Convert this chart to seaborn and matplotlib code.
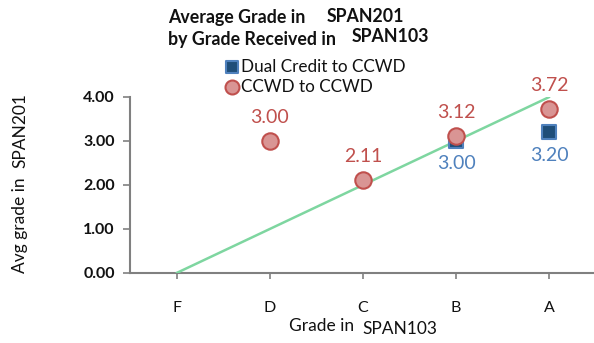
import matplotlib
matplotlib.use("Agg")
import matplotlib.pyplot as plt
import seaborn as sns
import pandas as pd

# Grades received in SPAN103 and their grade points
grades = ["F", "D", "C", "B", "A"]
grade_points = [0, 1, 2, 3, 4]

# Average SPAN201 grade for each group
dual_grades = ["B", "A"]
dual_values = [3.00, 3.20]
ccwd_grades = ["D", "C", "B", "A"]
ccwd_values = [3.00, 2.11, 3.12, 3.72]

dual_label = "Dual Credit to CCWD"
ccwd_label = "CCWD to CCWD"

sns.set_theme(style="white")
plt.rcParams["font.family"] = ["Lato", "DejaVu Sans"]

pos = {g: i for i, g in enumerate(grades)}
dual_df = pd.DataFrame({"x": [pos[g] for g in dual_grades], "y": dual_values})
ccwd_df = pd.DataFrame({"x": [pos[g] for g in ccwd_grades], "y": ccwd_values})
ref_df = pd.DataFrame({"x": [pos[g] for g in grades], "y": grade_points})

fig = plt.figure(figsize=(5.94, 3.43), dpi=100)
ax = fig.add_axes([130 / 594, 70 / 343, 1 - 130 / 594, 176 / 343])

# Reference line: grade points of the SPAN103 grade
sns.lineplot(data=ref_df, x="x", y="y", ax=ax, color="#7ED6A0", linewidth=1.8,
             zorder=3, legend=False)

blue_face, blue_edge, blue_text = "#1F4E79", "#4F81BD", "#4F81BD"
red_face, red_edge, red_text = "#D99594", "#C0504D", "#C0504D"

sns.scatterplot(data=dual_df, x="x", y="y", ax=ax, marker="s", s=110,
                color=blue_face, edgecolor=blue_edge, linewidth=1.5,
                zorder=4, label=dual_label, clip_on=False)
sns.scatterplot(data=ccwd_df, x="x", y="y", ax=ax, marker="o", s=140,
                color=red_face, edgecolor=red_edge, linewidth=1.5,
                zorder=5, label=ccwd_label, clip_on=False)

for x, y in zip(dual_df["x"], dual_df["y"]):
    ax.annotate(f"{y:.2f}", (x, y), xytext=(0, -16.5), textcoords="offset points",
                ha="center", va="center", fontsize=14, color=blue_text)
for x, y in zip(ccwd_df["x"], ccwd_df["y"]):
    ax.annotate(f"{y:.2f}", (x, y), xytext=(0, 17), textcoords="offset points",
                ha="center", va="center", fontsize=14, color=red_text)

ax.set_xlim(-0.5, 4.48)
ax.set_ylim(0, 4.0)
ax.set_xticks(range(len(grades)))
ax.set_xticklabels(grades, fontsize=11.5, color="#111111")
ax.set_yticks(grade_points)
ax.set_yticklabels([f"{v:.2f}" for v in grade_points], fontsize=11.5,
                   fontweight="bold", color="#111111")
ax.tick_params(axis="x", length=4, width=1.2, color="#808080", pad=16, bottom=True)
ax.tick_params(axis="y", length=5, width=1.2, color="#808080", pad=6, left=True)
ax.set_xlabel("")
ax.set_ylabel("")

for side in ["top", "right"]:
    ax.spines[side].set_visible(False)
for side in ["left", "bottom"]:
    ax.spines[side].set_color("#808080")
    ax.spines[side].set_linewidth(1.5)

# Title pieces
title_kw = dict(fontsize=12.8, fontweight="bold", ha="left", va="center",
                color="#111111")
fig.text(168 / 594, 1 - 17 / 343, "Average Grade in", **title_kw)
fig.text(327 / 594, 1 - 16 / 343, "SPAN201", **title_kw)
fig.text(168 / 594, 1 - 40 / 343, "by Grade Received in", **title_kw)
fig.text(352 / 594, 1 - 37 / 343, "SPAN103", **title_kw)

# Axis titles
label_kw = dict(fontsize=12.5, ha="center", va="center", color="#111111")
fig.text(20 / 594, 1 - 225 / 343, "Avg grade in", rotation=90, **label_kw)
fig.text(20 / 594, 1 - 131 / 343, "SPAN201", rotation=90, **label_kw)
fig.text(322 / 594, 1 - 326 / 343, "Grade in", **label_kw)
fig.text(400 / 594, 1 - 329 / 343, "SPAN103", **label_kw)

leg = ax.legend(loc="upper left", bbox_to_anchor=(215 / 594, 1 - 50 / 343),
                bbox_transform=fig.transFigure, frameon=False, fontsize=12.3,
                markerscale=0.85, handletextpad=0.05, handlelength=1.0,
                borderpad=0, labelspacing=0.25)
for t in leg.get_texts():
    t.set_color("#111111")

fig.savefig("out.png", dpi=100)
